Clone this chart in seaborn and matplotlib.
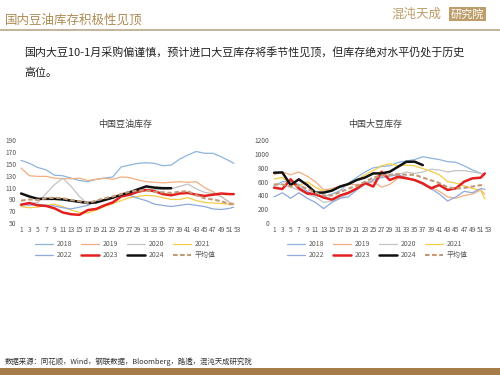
import numpy as np
import seaborn as sns
import matplotlib.pyplot as plt
from matplotlib.lines import Line2D
from matplotlib.patches import Rectangle

sns.set_theme(style="white")
plt.rcParams['font.family'] = ['Noto Sans CJK SC', 'DejaVu Sans']

weeks = [1, 3, 5, 7, 9, 11, 13, 15, 17, 19, 21, 23, 25, 27, 29, 31, 33, 35, 37,
         39, 41, 43, 45, 47, 49, 51, 52]
week_ticks = list(range(1, 54, 2))

# 中国豆油库存
oil_2018 = [156, 151, 144, 140, 131, 130, 126, 122, 120, 124, 126, 128, 145, 148, 151, 152,
            151, 147, 148, 158, 165, 171, 168, 168, 162, 155, 151]
oil_2019 = [143, 130, 129, 129, 126, 125, 125, 126, 122, 124, 126, 124, 128, 127, 123, 120,
            119, 118, 119, 120, 119, 120, 110, 103, 95, 85, 82]
oil_2020 = [82, 83, 85, 100, 115, 126, 112, 95, 82, 85, 90, 93, 97, 100, 103, 107,
            107, 107, 108, 112, 116, 108, 102, 100, 95, 85, 83]
oil_2021 = [78, 76, 77, 80, 82, 78, 72, 68, 67, 72, 78, 83, 88, 93, 95, 97,
            96, 93, 90, 90, 93, 88, 85, 84, 83, 82, 82]
oil_2022 = [82, 80, 82, 80, 79, 76, 74, 77, 80, 87, 90, 93, 97, 97, 92, 88,
            82, 80, 78, 80, 82, 80, 78, 74, 73, 75, 77]
oil_2023 = [81, 84, 80, 79, 75, 68, 65, 64, 72, 74, 80, 85, 95, 98, 103, 106,
            104, 99, 97, 100, 101, 98, 96, 98, 100, 99, 99]
oil_2024 = [100, 95, 91, 91, 91, 90, 88, 86, 84, 85, 89, 93, 98, 102, 107, 112,
            110, 109, 109] + [np.nan] * 8
oil_avg = [88, 90, 89, 92, 93, 92, 89, 87, 84, 88, 92, 95, 99, 103, 105, 105,
           103, 102, 101, 103, 104, 97, 92, 90, 87, 82, 82]

# 中国大豆库存
bean_2018 = [540, 600, 600, 560, 460, 400, 380, 420, 470, 580, 660, 740, 800, 820, 830, 880,
             900, 920, 960, 940, 920, 890, 880, 830, 770, 720, 700]
bean_2019 = [700, 740, 700, 740, 680, 600, 480, 500, 540, 560, 560, 560, 600, 520, 560, 650,
             640, 630, 570, 520, 460, 380, 360, 400, 420, 480, 420]
bean_2020 = [560, 560, 520, 480, 420, 380, 300, 320, 370, 420, 500, 580, 640, 680, 700, 700,
             740, 720, 740, 780, 770, 740, 760, 760, 740, 720, 700]
bean_2021 = [640, 660, 560, 540, 600, 520, 460, 480, 520, 560, 620, 700, 760, 830, 860, 830,
             840, 830, 790, 750, 700, 600, 580, 540, 500, 480, 350]
bean_2022 = [380, 440, 360, 440, 360, 300, 210, 300, 360, 380, 480, 560, 620, 660, 680, 700,
             660, 620, 560, 500, 420, 320, 380, 460, 440, 500, 490]
bean_2023 = [514, 494, 634, 504, 430, 420, 370, 340, 400, 440, 500, 580, 530, 744, 624, 672,
             650, 624, 576, 504, 552, 480, 504, 600, 648, 658, 720]
bean_2024 = [730, 734, 552, 634, 552, 442, 442, 470, 530, 566, 624, 660, 720, 720, 744, 816,
             888, 890, 840] + [np.nan] * 8
bean_avg = [560, 560, 530, 540, 500, 440, 400, 400, 450, 500, 540, 600, 660, 690, 700, 710,
            700, 700, 660, 620, 580, 520, 500, 510, 530, 550, 540]

labels = ['2018', '2019', '2020', '2021', '2022', '2023', '2024', '平均值']
colors = ['#8db4dc', '#f2ae80', '#c4c4c4', '#f7cc45', '#8ea9dc', '#e3201f', '#111111', '#c49a76']
widths = [0.9, 0.9, 0.9, 0.9, 0.9, 1.8, 1.8, 1.5]
gold = '#ad8a52'

fig = plt.figure(figsize=(5, 3.75), dpi=100)


def draw_chart(rect, series, title, ylim, yticks, title_x):
    ax = fig.add_axes(rect)
    for vals, lab, col, lw in zip(series, labels, colors, widths):
        ls = (0, (2.2, 1.2)) if lab == '平均值' else '-'
        sns.lineplot(x=weeks, y=vals, ax=ax, color=col, lw=lw, linestyle=ls, label=lab)
    ax.set_xlim(0.5, 53.5)
    ax.set_ylim(*ylim)
    ax.set_yticks(yticks)
    ax.set_xticks(week_ticks)
    ax.tick_params(labelsize=4.8, colors='#595959', length=0, pad=2)
    for s in ax.spines.values():
        s.set_visible(False)
    ax.set_xlabel('')
    ax.set_ylabel('')
    # legend filled row by row: 2018-2021 on top, 2022-平均值 below
    h, l = ax.get_legend_handles_labels()
    order = [0, 4, 1, 5, 2, 6, 3, 7]
    ax.legend([h[i] for i in order], [l[i] for i in order], ncol=4, loc='upper center',
              bbox_to_anchor=(0.48, -0.13), frameon=False,
              fontsize=5, handlelength=2.6, handletextpad=0.5, columnspacing=1.3,
              labelspacing=0.45, labelcolor='#595959')
    fig.text(title_x, 0.667, title, ha='center', va='center', fontsize=6.5, color='#404040')
    return ax


draw_chart([0.038, 0.405, 0.442, 0.221],
           [oil_2018, oil_2019, oil_2020, oil_2021, oil_2022, oil_2023, oil_2024, oil_avg],
           '中国豆油库存', (50, 190), range(50, 191, 20), 0.25)
draw_chart([0.544, 0.405, 0.438, 0.221],
           [bean_2018, bean_2019, bean_2020, bean_2021, bean_2022, bean_2023, bean_2024, bean_avg],
           '中国大豆库存', (0, 1200), range(0, 1201, 200), 0.75)

# header
fig.text(0.01, 0.947, '国内豆油库存积极性见顶', fontsize=9, color=gold, va='center')
fig.add_artist(Line2D([0, 1], [0.921, 0.921], color='#bfae92', lw=1.3))
fig.text(0.784, 0.962, '混沌天成', fontsize=9, color='#bd9d6a', va='center')
fig.text(0.902, 0.962, '研究院', fontsize=8, color='white', va='center',
         bbox=dict(boxstyle='square,pad=0.15', fc='#bd9d6a', ec='none'))

# body text
fig.text(0.048, 0.859, '国内大豆10-1月采购偏谨慎，预计进口大豆库存将季节性见顶，但库存绝对水平仍处于历史',
         fontsize=7.95, color='#222222', va='center')
fig.text(0.048, 0.805, '高位。', fontsize=7.95, color='#222222', va='center')

# footer
fig.text(0.01, 0.035, '数据来源：同花顺，Wind，钢联数据，Bloomberg，路透，混沌天成研究院',
         fontsize=5.35, color='#333333', va='center', style='italic')
fig.add_artist(Rectangle((0, 0), 1, 0.019, transform=fig.transFigure, color='#a67d48', lw=0))

fig.savefig('out.png', dpi=100)
